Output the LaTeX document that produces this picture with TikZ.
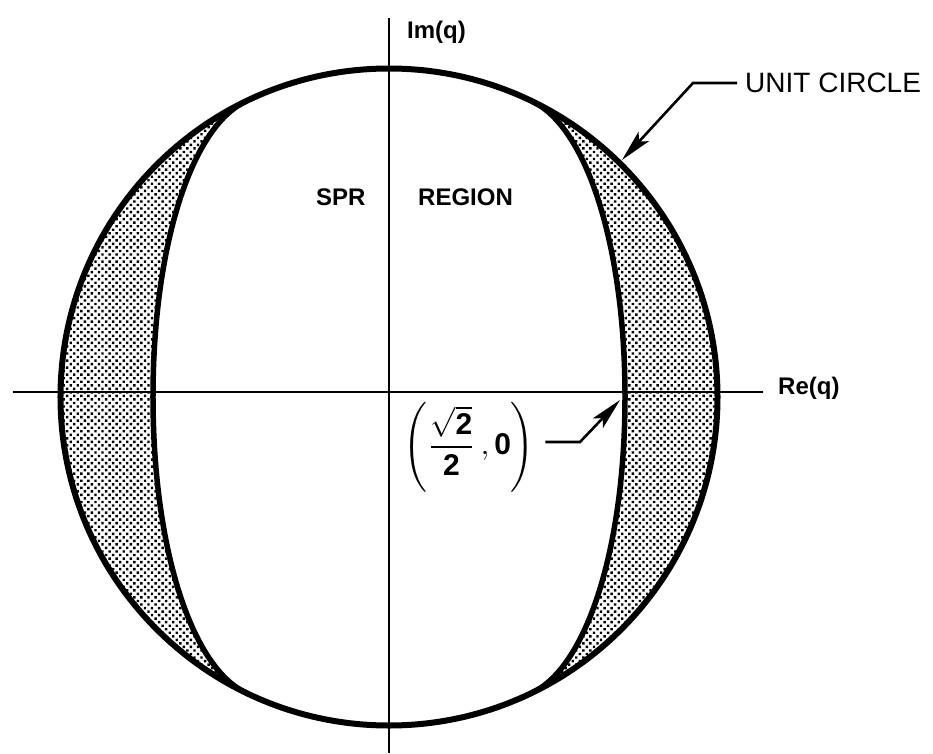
\documentclass[tikz,border=0pt]{standalone}
\usepackage{amsmath}
\usepackage{fontspec}
\setmainfont{Liberation Sans}
\usetikzlibrary{patterns.meta,arrows.meta}
\begin{document}
\begin{tikzpicture}[x=1pt,y=1pt,
  bound/.style={line width=6pt},
  innerb/.style={line width=5.5pt},
  axisline/.style={line width=2.4pt},
  leader/.style={line width=2.6pt,-{Stealth[length=32pt,width=14pt,inset=7pt]}},
  dotfill/.style={pattern={Dots[distance=5pt,radius=1.7pt,angle=45]}},
  lab/.style={font=\fontsize{24}{26}\selectfont\bfseries, inner sep=0pt}
]
\useasboundingbox (-389,-356) rectangle (544,397);
% key points
\coordinate (O) at (0,0);
\coordinate (T) at (144,295.3);
\coordinate (B) at (144,-295.3);
\coordinate (E) at (236,0);
\coordinate (TL) at (-144,295.3);
\coordinate (BL) at (-144,-295.3);
\coordinate (EL) at (-236,0);
% shaded crescents
\fill[dotfill] (T) arc[start angle=64, end angle=-64, radius=328.5]
  .. controls (198,-269) and (236,-150) .. (E)
  .. controls (236,150) and (198,269) .. (T) -- cycle;
\fill[dotfill] (TL) arc[start angle=116, end angle=244, radius=328.5]
  .. controls (-198,-269) and (-236,-150) .. (EL)
  .. controls (-236,150) and (-198,269) .. (TL) -- cycle;
% axes
\coordinate (xl) at (-376,5);
\coordinate (xr) at (374,5);
\coordinate (yt) at (0,379);
\coordinate (yb) at (0,-356);
\draw[axisline] (xl) -- (xr);
\draw[axisline] (yt) -- (yb);
% unit circle and SPR boundary
\draw[bound] (O) circle[radius=328.5];
\draw[innerb] (T) .. controls (198,269) and (236,150) .. (E)
  .. controls (236,-150) and (198,-269) .. (B);
\draw[innerb] (TL) .. controls (-198,269) and (-236,150) .. (EL)
  .. controls (-236,-150) and (-198,-269) .. (BL);
% labels
\node[lab, anchor=west] (im) at (18,365) {Im(q)};
\node[lab, anchor=west] (re) at (389,9) {Re(q)};
\node[lab, anchor=west] (spr) at (-73,200) {SPR};
\node[lab, anchor=west] (region) at (29,200) {REGION};
\node[font=\fontsize{28}{30}\selectfont, anchor=west, inner sep=0pt] (uc) at (356,314) {UNIT CIRCLE};
\node[inner sep=0pt, scale=3.0] (pt) at (80,-50) {$\left(\dfrac{\sqrt{\mathbf{2}}}{\mathbf{2}}\,,\mathbf{0}\right)$};
% leaders
\coordinate (ptbend) at (191,-45);
\coordinate (pttip) at (231,-3);
\coordinate (ucbend) at (304,314);
\coordinate (uctip) at (233,237);
\draw[leader] ([xshift=-8pt]uc.west) -- (ucbend) -- (uctip);
\draw[leader] ([xshift=10pt]pt.east |- ptbend) -- (ptbend) -- (pttip);
\end{tikzpicture}
\end{document}
